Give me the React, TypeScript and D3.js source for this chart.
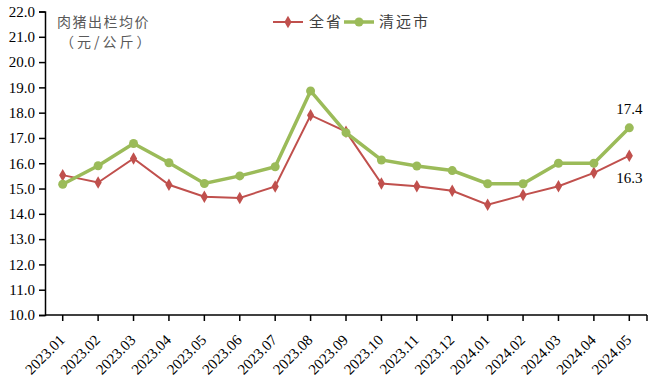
import { useEffect, useRef } from "react";
import * as d3 from "d3";

const months = [
  "2023.01", "2023.02", "2023.03", "2023.04", "2023.05", "2023.06", "2023.07", "2023.08", "2023.09",
  "2023.10", "2023.11", "2023.12", "2024.01", "2024.02", "2024.03", "2024.04", "2024.05",
];
const province = [15.53, 15.24, 16.19, 15.15, 14.68, 14.63, 15.08, 17.9, 17.25, 15.2, 15.09, 14.91, 14.36, 14.74, 15.09, 15.62, 16.3];
const qingyuan = [15.17, 15.9, 16.78, 16.02, 15.2, 15.5, 15.86, 18.86, 17.21, 16.13, 15.89, 15.71, 15.19, 15.19, 16.0, 16.0, 17.4];
const yTicks = [10, 11, 12, 13, 14, 15, 16, 17, 18, 19, 20, 21, 22];

const RED = "#C0504D";
const GREEN = "#9BBB59";

const App = () => {
  const svgRef = useRef<SVGSVGElement | null>(null);

  useEffect(() => {
    const svg = d3.select(svgRef.current);
    svg.selectAll("*").remove();

    const left = 45;
    const right = 647;
    const top = 11.5;
    const bottom = 315;
    const serif = "'Liberation Serif', 'Times New Roman', serif";
    const cjk = "'Noto Sans CJK SC', sans-serif";

    const x = d3.scaleBand<string>().domain(months).range([left, right]);
    const cx = (m: string) => (x(m) as number) + x.bandwidth() / 2;
    const y = d3.scaleLinear().domain([10, 22]).range([bottom, top]);

    // y axis
    const yAxis = svg
      .append("g")
      .attr("transform", `translate(${left},0)`)
      .call(d3.axisLeft(y).tickValues(yTicks).tickFormat((d) => d3.format(".1f")(d as number)).tickSizeOuter(0).tickSize(6));
    yAxis.select(".domain").attr("stroke", "#000").attr("stroke-width", 1.5);
    yAxis.selectAll(".tick line").attr("stroke", "#000").attr("stroke-width", 1.5);
    yAxis
      .selectAll(".tick text")
      .attr("x", -10)
      .attr("fill", "#000")
      .style("font-family", serif)
      .style("font-size", "15px");

    // x axis
    const xg = svg.append("g").attr("transform", `translate(0,${bottom})`);
    xg.append("line").attr("x1", left).attr("x2", right).attr("stroke", "#000").attr("stroke-width", 1.5);
    const ticks = xg.selectAll(".xt").data(months).enter().append("g").attr("transform", (d) => `translate(${cx(d)},0)`);
    ticks.append("line").attr("y2", 6).attr("stroke", "#000").attr("stroke-width", 1.5);
    ticks
      .append("text")
      .attr("transform", "translate(3,26) rotate(-45)")
      .attr("text-anchor", "end")
      .style("font-family", serif)
      .style("font-size", "15px")
      .attr("fill", "#000")
      .text((d) => d);
    xg.append("line").attr("x1", right).attr("x2", right).attr("y2", 6).attr("stroke", "#000").attr("stroke-width", 1.5);

    const line = d3
      .line<number>()
      .x((_, i) => cx(months[i]))
      .y((d) => y(d));

    // 全省
    svg.append("path").datum(province).attr("d", line).attr("fill", "none").attr("stroke", RED).attr("stroke-width", 2);
    svg
      .selectAll(".pm")
      .data(province)
      .enter()
      .append("path")
      .attr("d", d3.symbol(d3.symbolDiamond, 45)())
      .attr("transform", (d, i) => `translate(${cx(months[i])},${y(d)})`)
      .attr("fill", RED);

    // 清远市
    svg.append("path").datum(qingyuan).attr("d", line).attr("fill", "none").attr("stroke", GREEN).attr("stroke-width", 3.5);
    svg
      .selectAll(".qm")
      .data(qingyuan)
      .enter()
      .append("circle")
      .attr("cx", (_, i) => cx(months[i]))
      .attr("cy", (d) => y(d))
      .attr("r", 4.5)
      .attr("fill", GREEN);

    // end labels
    const last = months.length - 1;
    svg
      .append("text")
      .attr("x", cx(months[last]))
      .attr("y", y(qingyuan[last]) - 14)
      .attr("text-anchor", "middle")
      .style("font-family", serif)
      .style("font-size", "15px")
      .text(d3.format(".1f")(qingyuan[last]));
    svg
      .append("text")
      .attr("x", cx(months[last]))
      .attr("y", y(province[last]) + 27)
      .attr("text-anchor", "middle")
      .style("font-family", serif)
      .style("font-size", "15px")
      .text(d3.format(".1f")(province[last]));

    // y title
    svg
      .append("text")
      .attr("x", 57)
      .attr("y", 27)
      .attr("fill", "#595959")
      .style("font-family", cjk)
      .style("font-size", "14px")
      .style("letter-spacing", "1.5px")
      .text("肉猪出栏均价");
    svg
      .append("text")
      .attr("x", 60)
      .attr("y", 47)
      .attr("fill", "#595959")
      .style("font-family", cjk)
      .style("font-size", "14px")
      .style("letter-spacing", "3px")
      .text("（元/公斤）");

    // legend
    const leg = svg.append("g").attr("transform", "translate(273,22)");
    leg.append("line").attr("x1", 0).attr("x2", 30).attr("stroke", RED).attr("stroke-width", 2);
    leg.append("path").attr("d", d3.symbol(d3.symbolDiamond, 45)()).attr("transform", "translate(15,0)").attr("fill", RED);
    leg
      .append("text")
      .attr("x", 36)
      .attr("dy", "0.35em")
      .attr("fill", "#404040")
      .style("font-family", cjk)
      .style("font-size", "15px")
      .style("letter-spacing", "2px")
      .text("全省");
    leg.append("line").attr("x1", 71).attr("x2", 101).attr("stroke", GREEN).attr("stroke-width", 3.5);
    leg.append("circle").attr("cx", 86).attr("r", 4.5).attr("fill", GREEN);
    leg
      .append("text")
      .attr("x", 106)
      .attr("dy", "0.35em")
      .attr("fill", "#404040")
      .style("font-family", cjk)
      .style("font-size", "15px")
      .style("letter-spacing", "2px")
      .text("清远市");
  }, []);

  return (
    <svg
      ref={svgRef}
      width={650}
      height={387}
      style={{ position: "absolute", left: 0, top: 0, background: "#fff" }}
    ></svg>
  );
};

export default App;
